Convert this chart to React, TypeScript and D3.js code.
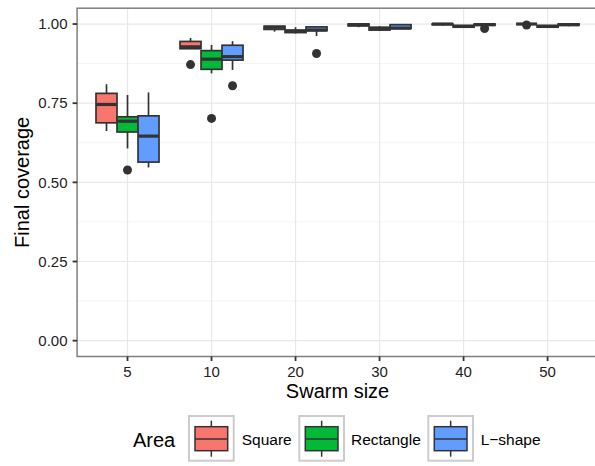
import React from "react";
import * as d3 from "d3";

const categories = ["5", "10", "20", "30", "40", "50"];
const seriesNames = ["Square", "Rectangle", "L\u2212shape"];
const seriesColors = ["#F8766D", "#00BA38", "#619CFF"];

// [lowerWhisker, q1, median, q3, upperWhisker] per swarm size
const squareStats = [
  [0.662, 0.688, 0.746, 0.781, 0.81],
  [0.922, 0.922, 0.928, 0.945, 0.956],
  [0.976, 0.983, 0.99, 0.993, 0.993],
  [0.99, 0.994, 0.998, 1.0, 1.0],
  [0.995, 0.998, 1.0, 1.0, 1.0],
  [0.999, 1.0, 1.0, 1.0, 1.0],
];
const rectangleStats = [
  [0.607, 0.659, 0.693, 0.707, 0.776],
  [0.844, 0.857, 0.889, 0.916, 0.934],
  [0.97, 0.973, 0.977, 0.981, 0.99],
  [0.978, 0.981, 0.985, 0.99, 0.993],
  [0.988, 0.99, 0.993, 0.995, 0.997],
  [0.988, 0.99, 0.993, 0.995, 0.997],
];
const lshapeStats = [
  [0.547, 0.564, 0.646, 0.71, 0.784],
  [0.855, 0.886, 0.897, 0.933, 0.946],
  [0.962, 0.979, 0.981, 0.991, 0.993],
  [0.984, 0.986, 0.987, 0.998, 1.0],
  [0.993, 0.996, 0.998, 1.0, 1.0],
  [0.993, 0.996, 0.998, 1.0, 1.0],
];
const squareOutliers = [[], [0.872], [], [], [], [0.997]];
const rectangleOutliers = [[0.539], [0.702], [], [], [], []];
const lshapeOutliers = [[], [0.805], [0.907], [], [0.986], []];

const yTicks = [0, 0.25, 0.5, 0.75, 1.0];
const yMinor = [0.125, 0.375, 0.625, 0.875];

const allStats = [squareStats, rectangleStats, lshapeStats];
const allOutliers = [squareOutliers, rectangleOutliers, lshapeOutliers];

const FONT = "'Liberation Sans', Arial, Helvetica, sans-serif";

export default function App() {
  const W = 595, H = 466;
  const left = 77.1, right = 598, top = 8.2, bottom = 356.5;

  const x = d3.scaleBand<string>().domain(categories).range([left, right]).paddingInner(0).paddingOuter(0.1);
  const dodge = d3.scaleBand<number>().domain([0, 1, 2]).range([-0.375 * x.bandwidth(), 0.375 * x.bandwidth()]);
  const y = d3.scaleLinear().domain([-0.05, 1.05]).range([bottom, top]);

  const cx = (c: string) => (x(c) as number) + x.bandwidth() / 2;
  const bw = dodge.bandwidth();

  const legendItems = [
    { key: 188, text: 241.7 },
    { key: 298.3, text: 351 },
    { key: 427.3, text: 480.7 },
  ];

  return (
    <svg width={W} height={H} style={{ position: "absolute", left: 0, top: 0, background: "#fff" }} fontFamily={FONT}>
      <rect x={0} y={0} width={W} height={H} fill="#fff" />
      {/* grid */}
      {yMinor.map((t) => (
        <line key={"mi" + t} x1={left} x2={right} y1={y(t)} y2={y(t)} stroke="#f4f4f4" strokeWidth={1} />
      ))}
      {yTicks.map((t) => (
        <line key={"ma" + t} x1={left} x2={right} y1={y(t)} y2={y(t)} stroke="#e8e8e8" strokeWidth={1.2} />
      ))}
      {categories.map((c) => (
        <line key={"vx" + c} x1={cx(c)} x2={cx(c)} y1={top} y2={bottom} stroke="#e8e8e8" strokeWidth={1.2} />
      ))}
      {/* boxes */}
      {allStats.map((stats, si) =>
        stats.map((s, ci) => {
          const c = categories[ci];
          const x0 = cx(c) + (dodge(si) as number);
          const xm = x0 + bw / 2;
          const [lo, q1, med, q3, hi] = s;
          return (
            <g key={`b${si}-${ci}`}>
              <line x1={xm} x2={xm} y1={y(hi)} y2={y(q3)} stroke="#333" strokeWidth={1.7} />
              <line x1={xm} x2={xm} y1={y(q1)} y2={y(lo)} stroke="#333" strokeWidth={1.7} />
              <rect x={x0} y={y(q3)} width={bw} height={Math.max(0, y(q1) - y(q3))} fill={seriesColors[si]} stroke="#333" strokeWidth={1.7} />
              <line x1={x0} x2={x0 + bw} y1={y(med)} y2={y(med)} stroke="#333" strokeWidth={3.2} />
            </g>
          );
        })
      )}
      {allOutliers.map((outs, si) =>
        outs.map((arr, ci) =>
          arr.map((v, k) => (
            <circle key={`o${si}-${ci}-${k}`} cx={cx(categories[ci]) + (dodge(si) as number) + bw / 2} cy={y(v)} r={4.5} fill="#333" />
          ))
        )
      )}
      {/* panel border */}
      <rect x={left} y={top} width={right - left} height={bottom - top} fill="none" stroke="#7f7f7f" strokeWidth={1.5} />
      {/* y axis */}
      {yTicks.map((t) => (
        <g key={"yt" + t}>
          <line x1={left - 4.5} x2={left} y1={y(t)} y2={y(t)} stroke="#333" strokeWidth={1.8} />
          <text x={67.5} y={y(t) + 5.3} textAnchor="end" fontSize={15} fill="#222">
            {t.toFixed(2)}
          </text>
        </g>
      ))}
      {/* x axis */}
      {categories.map((c) => (
        <g key={"xt" + c}>
          <line x1={cx(c)} x2={cx(c)} y1={bottom} y2={bottom + 4.5} stroke="#333" strokeWidth={1.8} />
          <text x={cx(c)} y={377} textAnchor="middle" fontSize={15} fill="#222">
            {c}
          </text>
        </g>
      ))}
      <text x={(left + right) / 2} y={398} textAnchor="middle" fontSize={20} fill="#000">
        Swarm size
      </text>
      <text transform={`translate(28.5, ${(top + bottom) / 2}) rotate(-90)`} textAnchor="middle" fontSize={20} fill="#000">
        Final coverage
      </text>
      {/* legend */}
      <text x={133} y={447} fontSize={20} fill="#000">
        Area
      </text>
      {legendItems.map((li, i) => {
        const kx = li.key;
        const ky = 415;
        const ks = 46.7;
        const mid = kx + ks / 2;
        return (
          <g key={"lg" + i}>
            <rect x={kx + 1} y={ky + 1} width={ks - 2} height={ks - 2} fill="#fff" stroke="#cccccc" strokeWidth={2} />
            <line x1={mid} x2={mid} y1={420.7} y2={456.7} stroke="#333" strokeWidth={1.5} />
            <rect x={kx + 7} y={426.7} width={ks - 14} height={24} fill={seriesColors[i]} stroke="#333" strokeWidth={1.5} />
            <line x1={kx + 7} x2={kx + ks - 7} y1={439} y2={439} stroke="#333" strokeWidth={1.5} />
            <text x={li.text} y={444.5} fontSize={15.5} fill="#000">
              {seriesNames[i]}
            </text>
          </g>
        );
      })}
    </svg>
  );
}
